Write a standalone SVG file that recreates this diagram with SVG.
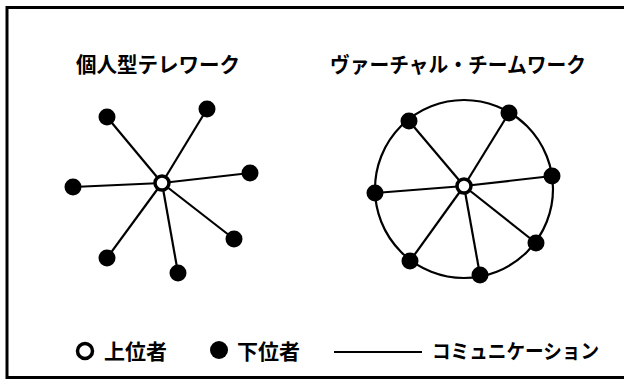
<svg xmlns="http://www.w3.org/2000/svg" width="624" height="379" viewBox="0 0 624 379">
<style>
.frame{fill:none;stroke:#000;stroke-width:3}
.edge{stroke:#000;stroke-width:2.2;fill:none}
.sub{fill:#000}
.sup{fill:#fff;stroke:#000;stroke-width:3.5}
.t{font-family:"Noto Sans CJK JP","Noto Sans CJK SC",sans-serif;font-weight:bold;fill:#000}
</style>
<rect width="624" height="379" fill="#fff"/>
<rect class="frame" x="7" y="7.5" width="640" height="370"/>
<text class="t" x="76" y="72" font-size="21" textLength="164" lengthAdjust="spacingAndGlyphs">個人型テレワーク</text>
<text class="t" x="330" y="72" font-size="21" textLength="256" lengthAdjust="spacingAndGlyphs">ヴァーチャル・チームワーク</text>
<g id="connectors">
<g id="left-edges">
<line class="edge" x1="162" y1="183" x2="107" y2="117"/>
<line class="edge" x1="162" y1="183" x2="207" y2="109"/>
<line class="edge" x1="162" y1="183" x2="73" y2="187"/>
<line class="edge" x1="162" y1="183" x2="250" y2="173"/>
<line class="edge" x1="162" y1="183" x2="234" y2="239"/>
<line class="edge" x1="162" y1="183" x2="107" y2="258"/>
<line class="edge" x1="162" y1="183" x2="178" y2="273"/>
</g>
<g id="right-edges">
<circle class="edge" cx="464" cy="189" r="89"/>
<line class="edge" x1="464" y1="186" x2="409" y2="121"/>
<line class="edge" x1="464" y1="186" x2="509" y2="113"/>
<line class="edge" x1="464" y1="186" x2="552" y2="176"/>
<line class="edge" x1="464" y1="186" x2="375" y2="193"/>
<line class="edge" x1="464" y1="186" x2="536" y2="243"/>
<line class="edge" x1="464" y1="186" x2="410" y2="261"/>
<line class="edge" x1="464" y1="186" x2="480" y2="275"/>
</g>
<line id="legend-line" class="edge" x1="334" y1="352" x2="422" y2="352"/>
</g>
<g id="left-hub"><circle class="sup" cx="162" cy="183" r="7"/></g>
<g id="left-n1"><circle class="sub" cx="107" cy="117" r="8.5"/></g>
<g id="left-n2"><circle class="sub" cx="207" cy="109" r="8.5"/></g>
<g id="left-n3"><circle class="sub" cx="73" cy="187" r="8.5"/></g>
<g id="left-n4"><circle class="sub" cx="250" cy="173" r="8.5"/></g>
<g id="left-n5"><circle class="sub" cx="234" cy="239" r="8.5"/></g>
<g id="left-n6"><circle class="sub" cx="107" cy="258" r="8.5"/></g>
<g id="left-n7"><circle class="sub" cx="178" cy="273" r="8.5"/></g>
<g id="right-hub"><circle class="sup" cx="464" cy="186" r="7"/></g>
<g id="right-n1"><circle class="sub" cx="409" cy="121" r="8.5"/></g>
<g id="right-n2"><circle class="sub" cx="509" cy="113" r="8.5"/></g>
<g id="right-n3"><circle class="sub" cx="552" cy="176" r="8.5"/></g>
<g id="right-n4"><circle class="sub" cx="375" cy="193" r="8.5"/></g>
<g id="right-n5"><circle class="sub" cx="536" cy="243" r="8.5"/></g>
<g id="right-n6"><circle class="sub" cx="410" cy="261" r="8.5"/></g>
<g id="right-n7"><circle class="sub" cx="480" cy="275" r="8.5"/></g>
<g id="legend">
<circle class="sup" cx="85" cy="351" r="7.5" stroke-width="4.5"/>
<text class="t" x="104" y="359" font-size="21" textLength="63" lengthAdjust="spacingAndGlyphs">上位者</text>
<circle class="sub" cx="219" cy="350" r="9"/>
<text class="t" x="237" y="359" font-size="21" textLength="63" lengthAdjust="spacingAndGlyphs">下位者</text>
<text class="t" x="432" y="359" font-size="20" textLength="167" lengthAdjust="spacingAndGlyphs">コミュニケーション</text>
</g>
</svg>
